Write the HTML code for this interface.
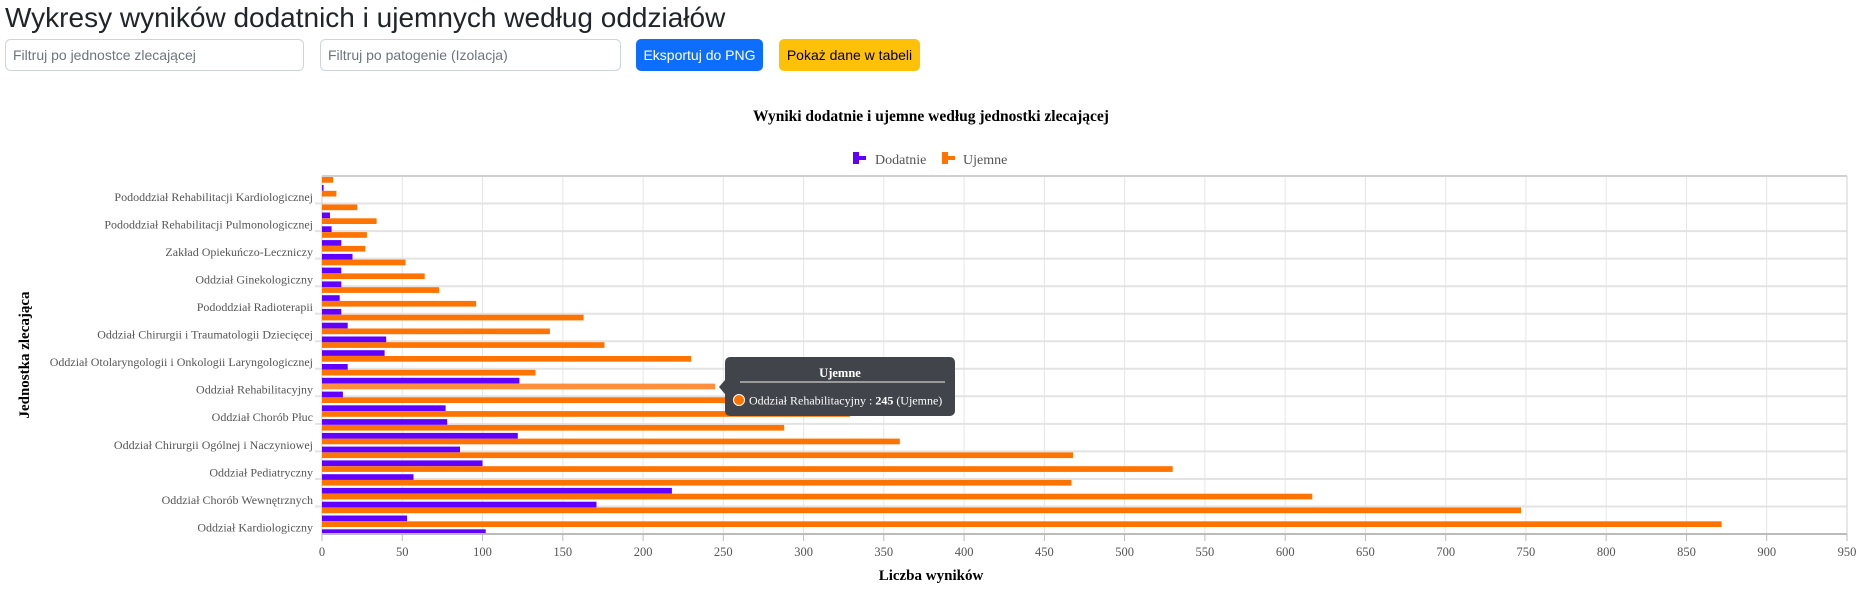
<!DOCTYPE html>
<html><head><meta charset="utf-8"><style>
html,body{margin:0;padding:0;background:#fff;width:1871px;height:598px;overflow:hidden}
svg{display:block}
.s{font-family:"Liberation Serif",serif}
.a{font-family:"Liberation Sans",sans-serif}
</style></head><body>
<svg width="1871" height="598" viewBox="0 0 1871 598" xmlns="http://www.w3.org/2000/svg">
<text x="5" y="27" class="a" font-size="28" fill="#212529">Wykresy wyników dodatnich i ujemnych według oddziałów</text>
<rect x="5.5" y="39.5" width="298" height="31" rx="5" fill="#fff" stroke="#ced4da"/>
<text x="13" y="60" class="a" font-size="14" fill="#6c757d">Filtruj po jednostce zlecającej</text>
<rect x="320.5" y="39.5" width="300" height="31" rx="5" fill="#fff" stroke="#ced4da"/>
<text x="328" y="60" class="a" font-size="14" fill="#6c757d">Filtruj po patogenie (Izolacja)</text>
<rect x="636" y="39" width="127" height="32" rx="5" fill="#0d6efd"/>
<text x="699.5" y="60" class="a" font-size="14" fill="#fff" text-anchor="middle">Eksportuj do PNG</text>
<rect x="779" y="39" width="141" height="32" rx="5" fill="#ffc107"/>
<text x="849.5" y="60" class="a" font-size="14" fill="#000" text-anchor="middle">Pokaż dane w tabeli</text>

<text x="931" y="121" class="s" font-size="15.5" font-weight="bold" text-anchor="middle" fill="#000">Wyniki dodatnie i ujemne według jednostki zlecającej</text>
<g fill="#6200ff"><rect x="853" y="152" width="6" height="4"/><rect x="853" y="156" width="13" height="4"/><rect x="853" y="160" width="6" height="4"/></g>
<text x="875" y="164" class="s" font-size="14" fill="#555">Dodatnie</text>
<g fill="#ff7300"><rect x="942" y="152" width="6" height="4"/><rect x="942" y="156" width="13" height="4"/><rect x="942" y="160" width="6" height="4"/></g>
<text x="963" y="164" class="s" font-size="14" fill="#555">Ujemne</text>

<g stroke="#e6e6e6" stroke-width="1">
<line x1="402.3" y1="176" x2="402.3" y2="534"/><line x1="482.5" y1="176" x2="482.5" y2="534"/><line x1="562.8" y1="176" x2="562.8" y2="534"/><line x1="643.1" y1="176" x2="643.1" y2="534"/><line x1="723.3" y1="176" x2="723.3" y2="534"/><line x1="803.6" y1="176" x2="803.6" y2="534"/><line x1="883.8" y1="176" x2="883.8" y2="534"/><line x1="964.1" y1="176" x2="964.1" y2="534"/><line x1="1044.4" y1="176" x2="1044.4" y2="534"/><line x1="1124.6" y1="176" x2="1124.6" y2="534"/><line x1="1204.9" y1="176" x2="1204.9" y2="534"/><line x1="1285.2" y1="176" x2="1285.2" y2="534"/><line x1="1365.4" y1="176" x2="1365.4" y2="534"/><line x1="1445.7" y1="176" x2="1445.7" y2="534"/><line x1="1525.9" y1="176" x2="1525.9" y2="534"/><line x1="1606.2" y1="176" x2="1606.2" y2="534"/><line x1="1686.5" y1="176" x2="1686.5" y2="534"/><line x1="1766.7" y1="176" x2="1766.7" y2="534"/>
</g>
<g stroke="#e3e3e3" stroke-width="2">
<line x1="315" y1="203.5" x2="1847" y2="203.5"/><line x1="315" y1="231.1" x2="1847" y2="231.1"/><line x1="315" y1="258.6" x2="1847" y2="258.6"/><line x1="315" y1="286.2" x2="1847" y2="286.2"/><line x1="315" y1="313.7" x2="1847" y2="313.7"/><line x1="315" y1="341.2" x2="1847" y2="341.2"/><line x1="315" y1="368.8" x2="1847" y2="368.8"/><line x1="315" y1="396.3" x2="1847" y2="396.3"/><line x1="315" y1="423.9" x2="1847" y2="423.9"/><line x1="315" y1="451.4" x2="1847" y2="451.4"/><line x1="315" y1="479" x2="1847" y2="479"/><line x1="315" y1="506.5" x2="1847" y2="506.5"/>
</g>
<line x1="322" y1="176" x2="1847" y2="176" stroke="#d0d0d0" stroke-width="2"/>
<line x1="1847" y1="176" x2="1847" y2="534" stroke="#d0d0d0" stroke-width="1"/>
<line x1="322" y1="176" x2="322" y2="534" stroke="#ccc" stroke-width="1"/>

<g fill="#ff7300">
<rect x="322" y="177" width="11.2" height="5.7"/><rect x="322" y="190.8" width="14.4" height="5.7"/><rect x="322" y="204.5" width="35.3" height="5.7"/><rect x="322" y="218.3" width="54.6" height="5.7"/><rect x="322" y="232.1" width="44.9" height="5.7"/><rect x="322" y="245.9" width="43.3" height="5.7"/><rect x="322" y="259.6" width="83.5" height="5.7"/><rect x="322" y="273.4" width="102.7" height="5.7"/><rect x="322" y="287.2" width="117.2" height="5.7"/><rect x="322" y="300.9" width="154.1" height="5.7"/><rect x="322" y="314.7" width="261.6" height="5.7"/><rect x="322" y="328.5" width="227.9" height="5.7"/><rect x="322" y="342.2" width="282.5" height="5.7"/><rect x="322" y="356" width="369.2" height="5.7"/><rect x="322" y="369.8" width="213.5" height="5.7"/><rect x="322" y="383.6" width="393.2" height="5.7" fill="#ff8f3c"/><rect x="322" y="397.3" width="513.6" height="5.7"/><rect x="322" y="411.1" width="528" height="5.7"/><rect x="322" y="424.9" width="462.2" height="5.7"/><rect x="322" y="438.6" width="577.8" height="5.7"/><rect x="322" y="452.4" width="751.1" height="5.7"/><rect x="322" y="466.2" width="850.7" height="5.7"/><rect x="322" y="479.9" width="749.5" height="5.7"/><rect x="322" y="493.7" width="990.3" height="5.7"/><rect x="322" y="507.5" width="1199" height="5.7"/><rect x="322" y="521.3" width="1399.6" height="5.7"/>
</g>
<g fill="#6200ff">
<rect x="322" y="185" width="1.6" height="5.7"/><rect x="322" y="212.5" width="8" height="5.7"/><rect x="322" y="226.3" width="9.6" height="5.7"/><rect x="322" y="240.1" width="19.3" height="5.7"/><rect x="322" y="253.9" width="30.5" height="5.7"/><rect x="322" y="267.6" width="19.3" height="5.7"/><rect x="322" y="281.4" width="19.3" height="5.7"/><rect x="322" y="295.2" width="17.7" height="5.7"/><rect x="322" y="308.9" width="19.3" height="5.7"/><rect x="322" y="322.7" width="25.7" height="5.7"/><rect x="322" y="336.5" width="64.2" height="5.7"/><rect x="322" y="350.2" width="62.6" height="5.7"/><rect x="322" y="364" width="25.7" height="5.7"/><rect x="322" y="377.8" width="197.4" height="5.7"/><rect x="322" y="391.6" width="20.9" height="5.7"/><rect x="322" y="405.3" width="123.6" height="5.7"/><rect x="322" y="419.1" width="125.2" height="5.7"/><rect x="322" y="432.9" width="195.8" height="5.7"/><rect x="322" y="446.6" width="138" height="5.7"/><rect x="322" y="460.4" width="160.5" height="5.7"/><rect x="322" y="474.2" width="91.5" height="5.7"/><rect x="322" y="487.9" width="349.9" height="5.7"/><rect x="322" y="501.7" width="274.5" height="5.7"/><rect x="322" y="515.5" width="85.1" height="5.7"/><rect x="322" y="529.3" width="163.7" height="4.7"/>
</g>
<line x1="322" y1="534" x2="1847" y2="534" stroke="#bbb" stroke-width="2"/>
<g stroke="#bbb" stroke-width="1">
<line x1="322" y1="534" x2="322" y2="541"/><line x1="402.3" y1="534" x2="402.3" y2="541"/><line x1="482.5" y1="534" x2="482.5" y2="541"/><line x1="562.8" y1="534" x2="562.8" y2="541"/><line x1="643.1" y1="534" x2="643.1" y2="541"/><line x1="723.3" y1="534" x2="723.3" y2="541"/><line x1="803.6" y1="534" x2="803.6" y2="541"/><line x1="883.8" y1="534" x2="883.8" y2="541"/><line x1="964.1" y1="534" x2="964.1" y2="541"/><line x1="1044.4" y1="534" x2="1044.4" y2="541"/><line x1="1124.6" y1="534" x2="1124.6" y2="541"/><line x1="1204.9" y1="534" x2="1204.9" y2="541"/><line x1="1285.2" y1="534" x2="1285.2" y2="541"/><line x1="1365.4" y1="534" x2="1365.4" y2="541"/><line x1="1445.7" y1="534" x2="1445.7" y2="541"/><line x1="1525.9" y1="534" x2="1525.9" y2="541"/><line x1="1606.2" y1="534" x2="1606.2" y2="541"/><line x1="1686.5" y1="534" x2="1686.5" y2="541"/><line x1="1766.7" y1="534" x2="1766.7" y2="541"/><line x1="1847" y1="534" x2="1847" y2="541"/>
</g>
<g class="s" font-size="12.5" fill="#555" text-anchor="middle">
<text x="322" y="556">0</text><text x="402.3" y="556">50</text><text x="482.5" y="556">100</text><text x="562.8" y="556">150</text><text x="643.1" y="556">200</text><text x="723.3" y="556">250</text><text x="803.6" y="556">300</text><text x="883.8" y="556">350</text><text x="964.1" y="556">400</text><text x="1044.4" y="556">450</text><text x="1124.6" y="556">500</text><text x="1204.9" y="556">550</text><text x="1285.2" y="556">600</text><text x="1365.4" y="556">650</text><text x="1445.7" y="556">700</text><text x="1525.9" y="556">750</text><text x="1606.2" y="556">800</text><text x="1686.5" y="556">850</text><text x="1766.7" y="556">900</text><text x="1847" y="556">950</text>
</g>
<text x="931" y="580" class="s" font-size="15" font-weight="bold" text-anchor="middle" fill="#000">Liczba wyników</text>
<g class="s" font-size="12" fill="#555" text-anchor="end">
<text x="313" y="201">Pododdział Rehabilitacji Kardiologicznej</text>
<text x="313" y="228.5">Pododdział Rehabilitacji Pulmonologicznej</text>
<text x="313" y="256">Zakład Opiekuńczo-Leczniczy</text>
<text x="313" y="283.5">Oddział Ginekologiczny</text>
<text x="313" y="311">Pododdział Radioterapii</text>
<text x="313" y="338.6">Oddział Chirurgii i Traumatologii Dziecięcej</text>
<text x="313" y="366.1">Oddział Otolaryngologii i Onkologii Laryngologicznej</text>
<text x="313" y="393.7">Oddział Rehabilitacyjny</text>
<text x="313" y="421.2">Oddział Chorób Płuc</text>
<text x="313" y="448.8">Oddział Chirurgii Ogólnej i Naczyniowej</text>
<text x="313" y="476.3">Oddział Pediatryczny</text>
<text x="313" y="503.9">Oddział Chorób Wewnętrznych</text>
<text x="313" y="531.4">Oddział Kardiologiczny</text>
</g>
<text transform="translate(29,355) rotate(-90)" class="s" font-size="15" font-weight="bold" text-anchor="middle" fill="#000">Jednostka zlecająca</text>

<g>
<path d="M725,380 L719,387 L725,394 Z" fill="#41454b"/>
<rect x="725" y="357" width="230" height="59" rx="5" fill="#41454b"/>
<text x="840" y="377" class="s" font-size="12.5" font-weight="bold" fill="#fff" text-anchor="middle">Ujemne</text>
<line x1="740" y1="382" x2="945" y2="382" stroke="#9a9a9a" stroke-width="2"/>
<circle cx="739" cy="400" r="5.5" fill="#ff7300" stroke="#fff" stroke-width="1"/>
<text x="749" y="404.5" class="s" font-size="12" fill="#fff">Oddział Rehabilitacyjny : <tspan font-weight="bold">245</tspan> (Ujemne)</text>
</g>
</svg>
</body></html>
